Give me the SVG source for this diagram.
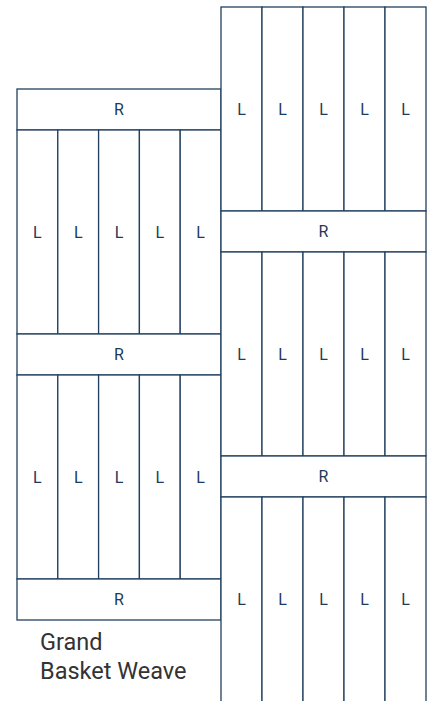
<svg xmlns="http://www.w3.org/2000/svg" width="432" height="701" viewBox="0 0 432 701">
<style>
rect{fill:#fff;stroke:#22405f;stroke-width:1.3}
text{font-family:Roboto,"Liberation Sans",sans-serif;font-size:16px;fill:#1c3a5c;text-anchor:middle}
.cap{font-size:23.5px;fill:#333;text-anchor:start}
</style>
<g id="left">
<g id="lR1"><rect x="17" y="89" width="204" height="41"/><text x="119" y="115">R</text></g>
<g id="lL1a"><rect x="17" y="130" width="40.8" height="204"/><text x="37.4" y="237.5">L</text></g>
<g id="lL1b"><rect x="57.8" y="130" width="40.8" height="204"/><text x="78.2" y="237.5">L</text></g>
<g id="lL1c"><rect x="98.6" y="130" width="40.8" height="204"/><text x="119" y="237.5">L</text></g>
<g id="lL1d"><rect x="139.4" y="130" width="40.8" height="204"/><text x="159.8" y="237.5">L</text></g>
<g id="lL1e"><rect x="180.2" y="130" width="40.8" height="204"/><text x="200.6" y="237.5">L</text></g>
<g id="lR2"><rect x="17" y="334" width="204" height="41"/><text x="119" y="360">R</text></g>
<g id="lL2a"><rect x="17" y="375" width="40.8" height="204"/><text x="37.4" y="482.5">L</text></g>
<g id="lL2b"><rect x="57.8" y="375" width="40.8" height="204"/><text x="78.2" y="482.5">L</text></g>
<g id="lL2c"><rect x="98.6" y="375" width="40.8" height="204"/><text x="119" y="482.5">L</text></g>
<g id="lL2d"><rect x="139.4" y="375" width="40.8" height="204"/><text x="159.8" y="482.5">L</text></g>
<g id="lL2e"><rect x="180.2" y="375" width="40.8" height="204"/><text x="200.6" y="482.5">L</text></g>
<g id="lR3"><rect x="17" y="579" width="204" height="41"/><text x="119" y="605">R</text></g>
</g>
<g id="right">
<g id="rL1a"><rect x="221" y="7" width="41" height="204"/><text x="241.5" y="114.5">L</text></g>
<g id="rL1b"><rect x="262" y="7" width="41" height="204"/><text x="282.5" y="114.5">L</text></g>
<g id="rL1c"><rect x="303" y="7" width="41" height="204"/><text x="323.5" y="114.5">L</text></g>
<g id="rL1d"><rect x="344" y="7" width="41" height="204"/><text x="364.5" y="114.5">L</text></g>
<g id="rL1e"><rect x="385" y="7" width="41" height="204"/><text x="405.5" y="114.5">L</text></g>
<g id="rR1"><rect x="221" y="211" width="205" height="41"/><text x="323.5" y="237">R</text></g>
<g id="rL2a"><rect x="221" y="252" width="41" height="204"/><text x="241.5" y="359.5">L</text></g>
<g id="rL2b"><rect x="262" y="252" width="41" height="204"/><text x="282.5" y="359.5">L</text></g>
<g id="rL2c"><rect x="303" y="252" width="41" height="204"/><text x="323.5" y="359.5">L</text></g>
<g id="rL2d"><rect x="344" y="252" width="41" height="204"/><text x="364.5" y="359.5">L</text></g>
<g id="rL2e"><rect x="385" y="252" width="41" height="204"/><text x="405.5" y="359.5">L</text></g>
<g id="rR2"><rect x="221" y="456" width="205" height="41"/><text x="323.5" y="482">R</text></g>
<g id="rL3a"><rect x="221" y="497" width="41" height="206"/><text x="241.5" y="604.5">L</text></g>
<g id="rL3b"><rect x="262" y="497" width="41" height="206"/><text x="282.5" y="604.5">L</text></g>
<g id="rL3c"><rect x="303" y="497" width="41" height="206"/><text x="323.5" y="604.5">L</text></g>
<g id="rL3d"><rect x="344" y="497" width="41" height="206"/><text x="364.5" y="604.5">L</text></g>
<g id="rL3e"><rect x="385" y="497" width="41" height="206"/><text x="405.5" y="604.5">L</text></g>
</g>
<g id="caption">
<text class="cap" x="40" y="650">Grand</text>
<text class="cap" x="40" y="679">Basket Weave</text>
</g>
</svg>
